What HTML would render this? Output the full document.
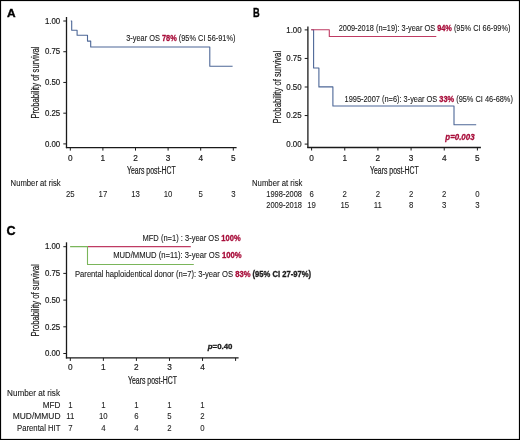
<!DOCTYPE html>
<html><head><meta charset="utf-8"><style>
html,body{margin:0;padding:0;background:#fff;}
#w{position:relative;width:520px;height:440px;overflow:hidden;background:#fff;}
svg{position:absolute;left:0;top:0;will-change:transform;}
text{font-family:"Liberation Sans",sans-serif;}
</style></head><body><div id="w">
<svg width="520" height="440" viewBox="0 0 520 440">
<rect x="0.5" y="0.5" width="519" height="439" fill="#fff" stroke="#000" stroke-width="1.2"/>
<text x="7.10" y="16.70" font-size="11.6" fill="#000" stroke="#000" stroke-width="0.35" style="font-weight:bold;" textLength="8.60" lengthAdjust="spacingAndGlyphs">A</text>
<line x1="66.5" y1="17.0" x2="66.5" y2="148.2" stroke="#1a1a1a" stroke-width="1.3"/>
<line x1="65.9" y1="147.6" x2="236.6" y2="147.6" stroke="#1a1a1a" stroke-width="1.3"/>
<line x1="63.3" y1="21.0" x2="66.5" y2="21.0" stroke="#1a1a1a" stroke-width="1.0"/>
<text x="44.90" y="23.70" font-size="9.0" fill="#1a1a1a" stroke="#1a1a1a" stroke-width="0.2" style="" textLength="15.30" lengthAdjust="spacingAndGlyphs">1.00</text>
<line x1="63.3" y1="51.725" x2="66.5" y2="51.725" stroke="#1a1a1a" stroke-width="1.0"/>
<text x="44.90" y="54.43" font-size="9.0" fill="#1a1a1a" stroke="#1a1a1a" stroke-width="0.2" style="" textLength="15.30" lengthAdjust="spacingAndGlyphs">0.75</text>
<line x1="63.3" y1="82.45" x2="66.5" y2="82.45" stroke="#1a1a1a" stroke-width="1.0"/>
<text x="44.90" y="85.15" font-size="9.0" fill="#1a1a1a" stroke="#1a1a1a" stroke-width="0.2" style="" textLength="15.30" lengthAdjust="spacingAndGlyphs">0.50</text>
<line x1="63.3" y1="113.17500000000001" x2="66.5" y2="113.17500000000001" stroke="#1a1a1a" stroke-width="1.0"/>
<text x="44.90" y="115.88" font-size="9.0" fill="#1a1a1a" stroke="#1a1a1a" stroke-width="0.2" style="" textLength="15.30" lengthAdjust="spacingAndGlyphs">0.25</text>
<line x1="63.3" y1="143.9" x2="66.5" y2="143.9" stroke="#1a1a1a" stroke-width="1.0"/>
<text x="44.90" y="146.60" font-size="9.0" fill="#1a1a1a" stroke="#1a1a1a" stroke-width="0.2" style="" textLength="15.30" lengthAdjust="spacingAndGlyphs">0.00</text>
<line x1="70.3" y1="147.6" x2="70.3" y2="150.6" stroke="#1a1a1a" stroke-width="1.0"/>
<text x="68.00" y="160.80" font-size="9.2" fill="#1a1a1a" stroke="#1a1a1a" stroke-width="0.2" style="" textLength="4.61" lengthAdjust="spacingAndGlyphs">0</text>
<line x1="102.9" y1="147.6" x2="102.9" y2="150.6" stroke="#1a1a1a" stroke-width="1.0"/>
<text x="100.60" y="160.80" font-size="9.2" fill="#1a1a1a" stroke="#1a1a1a" stroke-width="0.2" style="" textLength="4.61" lengthAdjust="spacingAndGlyphs">1</text>
<line x1="135.5" y1="147.6" x2="135.5" y2="150.6" stroke="#1a1a1a" stroke-width="1.0"/>
<text x="133.20" y="160.80" font-size="9.2" fill="#1a1a1a" stroke="#1a1a1a" stroke-width="0.2" style="" textLength="4.61" lengthAdjust="spacingAndGlyphs">2</text>
<line x1="168.10000000000002" y1="147.6" x2="168.10000000000002" y2="150.6" stroke="#1a1a1a" stroke-width="1.0"/>
<text x="165.80" y="160.80" font-size="9.2" fill="#1a1a1a" stroke="#1a1a1a" stroke-width="0.2" style="" textLength="4.61" lengthAdjust="spacingAndGlyphs">3</text>
<line x1="200.7" y1="147.6" x2="200.7" y2="150.6" stroke="#1a1a1a" stroke-width="1.0"/>
<text x="198.40" y="160.80" font-size="9.2" fill="#1a1a1a" stroke="#1a1a1a" stroke-width="0.2" style="" textLength="4.61" lengthAdjust="spacingAndGlyphs">4</text>
<line x1="233.3" y1="147.6" x2="233.3" y2="150.6" stroke="#1a1a1a" stroke-width="1.0"/>
<text x="231.00" y="160.80" font-size="9.2" fill="#1a1a1a" stroke="#1a1a1a" stroke-width="0.2" style="" textLength="4.61" lengthAdjust="spacingAndGlyphs">5</text>
<text transform="translate(39.30,118.50) rotate(-90)" x="0" y="0" font-size="10.2" fill="#1a1a1a" stroke="#1a1a1a" stroke-width="0.2" textLength="71.90" lengthAdjust="spacingAndGlyphs">Probability of survival</text>
<text x="127.00" y="174.10" font-size="10" fill="#1a1a1a" stroke="#1a1a1a" stroke-width="0.2" style="" textLength="48.80" lengthAdjust="spacingAndGlyphs">Years post-HCT</text>
<path d="M70.8 21 H71.7 V30.3 H77.1 V35.3 H87.5 V41.1 H90.7 V47.0 H209.8 V66.3 H232.6" fill="none" stroke="#4d6797" stroke-width="1.1" stroke-linejoin="round"/>
<text x="126.20" y="40.70" font-size="8.2" fill="#1a1a1a" stroke="#1a1a1a" stroke-width="0.1" style="" textLength="33.69" lengthAdjust="spacingAndGlyphs">3-year OS</text>
<text x="161.95" y="40.70" font-size="8.2" fill="#a80d3a" stroke="#a80d3a" stroke-width="0.3" style="font-weight:bold;" textLength="14.80" lengthAdjust="spacingAndGlyphs">78%</text>
<text x="178.80" y="40.70" font-size="8.2" fill="#1a1a1a" stroke="#1a1a1a" stroke-width="0.1" style="" textLength="56.70" lengthAdjust="spacingAndGlyphs">(95% CI 56-91%)</text>
<text x="10.60" y="185.90" font-size="8.2" fill="#1a1a1a" stroke="#1a1a1a" stroke-width="0.1" style="" textLength="50.00" lengthAdjust="spacingAndGlyphs">Number at risk</text>
<text x="65.95" y="197.00" font-size="9.2" fill="#1a1a1a" stroke="#1a1a1a" stroke-width="0.08" style="" textLength="8.70" lengthAdjust="spacingAndGlyphs">25</text>
<text x="98.55" y="197.00" font-size="9.2" fill="#1a1a1a" stroke="#1a1a1a" stroke-width="0.08" style="" textLength="8.70" lengthAdjust="spacingAndGlyphs">17</text>
<text x="131.15" y="197.00" font-size="9.2" fill="#1a1a1a" stroke="#1a1a1a" stroke-width="0.08" style="" textLength="8.70" lengthAdjust="spacingAndGlyphs">13</text>
<text x="163.75" y="197.00" font-size="9.2" fill="#1a1a1a" stroke="#1a1a1a" stroke-width="0.08" style="" textLength="8.70" lengthAdjust="spacingAndGlyphs">10</text>
<text x="198.53" y="197.00" font-size="9.2" fill="#1a1a1a" stroke="#1a1a1a" stroke-width="0.08" style="" textLength="4.35" lengthAdjust="spacingAndGlyphs">5</text>
<text x="231.13" y="197.00" font-size="9.2" fill="#1a1a1a" stroke="#1a1a1a" stroke-width="0.08" style="" textLength="4.35" lengthAdjust="spacingAndGlyphs">3</text>
<text x="252.90" y="16.70" font-size="12" fill="#000" stroke="#000" stroke-width="0.35" style="font-weight:bold;" textLength="6.70" lengthAdjust="spacingAndGlyphs">B</text>
<line x1="307.9" y1="26.4" x2="307.9" y2="148.1" stroke="#1a1a1a" stroke-width="1.3"/>
<line x1="307.29999999999995" y1="147.5" x2="480.9" y2="147.5" stroke="#1a1a1a" stroke-width="1.3"/>
<line x1="304.7" y1="29.9" x2="307.9" y2="29.9" stroke="#1a1a1a" stroke-width="1.0"/>
<text x="286.30" y="32.60" font-size="9.0" fill="#1a1a1a" stroke="#1a1a1a" stroke-width="0.2" style="" textLength="15.30" lengthAdjust="spacingAndGlyphs">1.00</text>
<line x1="304.7" y1="58.449999999999996" x2="307.9" y2="58.449999999999996" stroke="#1a1a1a" stroke-width="1.0"/>
<text x="286.30" y="61.15" font-size="9.0" fill="#1a1a1a" stroke="#1a1a1a" stroke-width="0.2" style="" textLength="15.30" lengthAdjust="spacingAndGlyphs">0.75</text>
<line x1="304.7" y1="87.0" x2="307.9" y2="87.0" stroke="#1a1a1a" stroke-width="1.0"/>
<text x="286.30" y="89.70" font-size="9.0" fill="#1a1a1a" stroke="#1a1a1a" stroke-width="0.2" style="" textLength="15.30" lengthAdjust="spacingAndGlyphs">0.50</text>
<line x1="304.7" y1="115.54999999999998" x2="307.9" y2="115.54999999999998" stroke="#1a1a1a" stroke-width="1.0"/>
<text x="286.30" y="118.25" font-size="9.0" fill="#1a1a1a" stroke="#1a1a1a" stroke-width="0.2" style="" textLength="15.30" lengthAdjust="spacingAndGlyphs">0.25</text>
<line x1="304.7" y1="144.1" x2="307.9" y2="144.1" stroke="#1a1a1a" stroke-width="1.0"/>
<text x="286.30" y="146.80" font-size="9.0" fill="#1a1a1a" stroke="#1a1a1a" stroke-width="0.2" style="" textLength="15.30" lengthAdjust="spacingAndGlyphs">0.00</text>
<line x1="311.6" y1="147.5" x2="311.6" y2="150.5" stroke="#1a1a1a" stroke-width="1.0"/>
<text x="309.30" y="160.90" font-size="9.2" fill="#1a1a1a" stroke="#1a1a1a" stroke-width="0.2" style="" textLength="4.61" lengthAdjust="spacingAndGlyphs">0</text>
<line x1="344.76" y1="147.5" x2="344.76" y2="150.5" stroke="#1a1a1a" stroke-width="1.0"/>
<text x="342.46" y="160.90" font-size="9.2" fill="#1a1a1a" stroke="#1a1a1a" stroke-width="0.2" style="" textLength="4.61" lengthAdjust="spacingAndGlyphs">1</text>
<line x1="377.92" y1="147.5" x2="377.92" y2="150.5" stroke="#1a1a1a" stroke-width="1.0"/>
<text x="375.62" y="160.90" font-size="9.2" fill="#1a1a1a" stroke="#1a1a1a" stroke-width="0.2" style="" textLength="4.61" lengthAdjust="spacingAndGlyphs">2</text>
<line x1="411.08000000000004" y1="147.5" x2="411.08000000000004" y2="150.5" stroke="#1a1a1a" stroke-width="1.0"/>
<text x="408.78" y="160.90" font-size="9.2" fill="#1a1a1a" stroke="#1a1a1a" stroke-width="0.2" style="" textLength="4.61" lengthAdjust="spacingAndGlyphs">3</text>
<line x1="444.24" y1="147.5" x2="444.24" y2="150.5" stroke="#1a1a1a" stroke-width="1.0"/>
<text x="441.94" y="160.90" font-size="9.2" fill="#1a1a1a" stroke="#1a1a1a" stroke-width="0.2" style="" textLength="4.61" lengthAdjust="spacingAndGlyphs">4</text>
<line x1="477.4" y1="147.5" x2="477.4" y2="150.5" stroke="#1a1a1a" stroke-width="1.0"/>
<text x="475.10" y="160.90" font-size="9.2" fill="#1a1a1a" stroke="#1a1a1a" stroke-width="0.2" style="" textLength="4.61" lengthAdjust="spacingAndGlyphs">5</text>
<text transform="translate(281.00,123.60) rotate(-90)" x="0" y="0" font-size="10.2" fill="#1a1a1a" stroke="#1a1a1a" stroke-width="0.2" textLength="72.70" lengthAdjust="spacingAndGlyphs">Probability of survival</text>
<text x="370.00" y="173.90" font-size="10" fill="#1a1a1a" stroke="#1a1a1a" stroke-width="0.2" style="" textLength="48.80" lengthAdjust="spacingAndGlyphs">Years post-HCT</text>
<path d="M311.6 29.8 H313.6 V68.0 H318.9 V86.9 H332.9 V106.0 H454.0 V124.8 H476.2" fill="none" stroke="#4d6797" stroke-width="1.1" stroke-linejoin="round"/>
<path d="M311 29.8 H329.3 V36.5 H436.3" fill="none" stroke="#bf3b63" stroke-width="1.1" stroke-linejoin="round"/>
<text x="338.70" y="31.20" font-size="8.2" fill="#1a1a1a" stroke="#1a1a1a" stroke-width="0.1" style="" textLength="96.40" lengthAdjust="spacingAndGlyphs">2009-2018 (n=19): 3-year OS</text>
<text x="437.14" y="31.20" font-size="8.2" fill="#a80d3a" stroke="#a80d3a" stroke-width="0.3" style="font-weight:bold;" textLength="14.74" lengthAdjust="spacingAndGlyphs">94%</text>
<text x="453.92" y="31.20" font-size="8.2" fill="#1a1a1a" stroke="#1a1a1a" stroke-width="0.1" style="" textLength="56.48" lengthAdjust="spacingAndGlyphs">(95% CI 66-99%)</text>
<text x="344.60" y="101.50" font-size="8.2" fill="#1a1a1a" stroke="#1a1a1a" stroke-width="0.1" style="" textLength="92.68" lengthAdjust="spacingAndGlyphs">1995-2007 (n=6): 3-year OS</text>
<text x="439.34" y="101.50" font-size="8.2" fill="#a80d3a" stroke="#a80d3a" stroke-width="0.3" style="font-weight:bold;" textLength="14.80" lengthAdjust="spacingAndGlyphs">33%</text>
<text x="456.19" y="101.50" font-size="8.2" fill="#1a1a1a" stroke="#1a1a1a" stroke-width="0.1" style="" textLength="56.71" lengthAdjust="spacingAndGlyphs">(95% CI 46-68%)</text>
<text x="445.30" y="140.00" font-size="8.6" fill="#a80d3a" stroke="#a80d3a" stroke-width="0.3" style="font-weight:bold;font-style:italic;" textLength="29.30" lengthAdjust="spacingAndGlyphs">p=0.003</text>
<text x="252.00" y="185.90" font-size="8.2" fill="#1a1a1a" stroke="#1a1a1a" stroke-width="0.1" style="" textLength="50.40" lengthAdjust="spacingAndGlyphs">Number at risk</text>
<text x="266.30" y="197.00" font-size="8.2" fill="#1a1a1a" stroke="#1a1a1a" stroke-width="0.1" style="" textLength="35.70" lengthAdjust="spacingAndGlyphs">1998-2008</text>
<text x="266.30" y="207.50" font-size="8.2" fill="#1a1a1a" stroke="#1a1a1a" stroke-width="0.1" style="" textLength="35.70" lengthAdjust="spacingAndGlyphs">2009-2018</text>
<text x="309.43" y="197.00" font-size="9.2" fill="#1a1a1a" stroke="#1a1a1a" stroke-width="0.08" style="" textLength="4.35" lengthAdjust="spacingAndGlyphs">6</text>
<text x="342.59" y="197.00" font-size="9.2" fill="#1a1a1a" stroke="#1a1a1a" stroke-width="0.08" style="" textLength="4.35" lengthAdjust="spacingAndGlyphs">2</text>
<text x="375.75" y="197.00" font-size="9.2" fill="#1a1a1a" stroke="#1a1a1a" stroke-width="0.08" style="" textLength="4.35" lengthAdjust="spacingAndGlyphs">2</text>
<text x="408.91" y="197.00" font-size="9.2" fill="#1a1a1a" stroke="#1a1a1a" stroke-width="0.08" style="" textLength="4.35" lengthAdjust="spacingAndGlyphs">2</text>
<text x="442.07" y="197.00" font-size="9.2" fill="#1a1a1a" stroke="#1a1a1a" stroke-width="0.08" style="" textLength="4.35" lengthAdjust="spacingAndGlyphs">2</text>
<text x="475.23" y="197.00" font-size="9.2" fill="#1a1a1a" stroke="#1a1a1a" stroke-width="0.08" style="" textLength="4.35" lengthAdjust="spacingAndGlyphs">0</text>
<text x="307.25" y="207.50" font-size="9.2" fill="#1a1a1a" stroke="#1a1a1a" stroke-width="0.08" style="" textLength="8.70" lengthAdjust="spacingAndGlyphs">19</text>
<text x="340.41" y="207.50" font-size="9.2" fill="#1a1a1a" stroke="#1a1a1a" stroke-width="0.08" style="" textLength="8.70" lengthAdjust="spacingAndGlyphs">15</text>
<text x="373.86" y="207.50" font-size="9.2" fill="#1a1a1a" stroke="#1a1a1a" stroke-width="0.08" style="" textLength="8.12" lengthAdjust="spacingAndGlyphs">11</text>
<text x="408.91" y="207.50" font-size="9.2" fill="#1a1a1a" stroke="#1a1a1a" stroke-width="0.08" style="" textLength="4.35" lengthAdjust="spacingAndGlyphs">8</text>
<text x="442.07" y="207.50" font-size="9.2" fill="#1a1a1a" stroke="#1a1a1a" stroke-width="0.08" style="" textLength="4.35" lengthAdjust="spacingAndGlyphs">3</text>
<text x="475.23" y="207.50" font-size="9.2" fill="#1a1a1a" stroke="#1a1a1a" stroke-width="0.08" style="" textLength="4.35" lengthAdjust="spacingAndGlyphs">3</text>
<text x="6.50" y="234.60" font-size="12" fill="#000" stroke="#000" stroke-width="0.35" style="font-weight:bold;" textLength="9.10" lengthAdjust="spacingAndGlyphs">C</text>
<line x1="66.5" y1="242.3" x2="66.5" y2="358.5" stroke="#1a1a1a" stroke-width="1.3"/>
<line x1="65.9" y1="357.9" x2="238.6" y2="357.9" stroke="#1a1a1a" stroke-width="1.3"/>
<line x1="63.3" y1="246.7" x2="66.5" y2="246.7" stroke="#1a1a1a" stroke-width="1.0"/>
<text x="44.90" y="249.40" font-size="9.0" fill="#1a1a1a" stroke="#1a1a1a" stroke-width="0.2" style="" textLength="15.30" lengthAdjust="spacingAndGlyphs">1.00</text>
<line x1="63.3" y1="273.4" x2="66.5" y2="273.4" stroke="#1a1a1a" stroke-width="1.0"/>
<text x="44.90" y="276.10" font-size="9.0" fill="#1a1a1a" stroke="#1a1a1a" stroke-width="0.2" style="" textLength="15.30" lengthAdjust="spacingAndGlyphs">0.75</text>
<line x1="63.3" y1="300.1" x2="66.5" y2="300.1" stroke="#1a1a1a" stroke-width="1.0"/>
<text x="44.90" y="302.80" font-size="9.0" fill="#1a1a1a" stroke="#1a1a1a" stroke-width="0.2" style="" textLength="15.30" lengthAdjust="spacingAndGlyphs">0.50</text>
<line x1="63.3" y1="326.8" x2="66.5" y2="326.8" stroke="#1a1a1a" stroke-width="1.0"/>
<text x="44.90" y="329.50" font-size="9.0" fill="#1a1a1a" stroke="#1a1a1a" stroke-width="0.2" style="" textLength="15.30" lengthAdjust="spacingAndGlyphs">0.25</text>
<line x1="63.3" y1="353.5" x2="66.5" y2="353.5" stroke="#1a1a1a" stroke-width="1.0"/>
<text x="44.90" y="356.20" font-size="9.0" fill="#1a1a1a" stroke="#1a1a1a" stroke-width="0.2" style="" textLength="15.30" lengthAdjust="spacingAndGlyphs">0.00</text>
<line x1="70.3" y1="357.9" x2="70.3" y2="360.9" stroke="#1a1a1a" stroke-width="1.0"/>
<text x="68.00" y="370.40" font-size="9.2" fill="#1a1a1a" stroke="#1a1a1a" stroke-width="0.2" style="" textLength="4.61" lengthAdjust="spacingAndGlyphs">0</text>
<line x1="103.36" y1="357.9" x2="103.36" y2="360.9" stroke="#1a1a1a" stroke-width="1.0"/>
<text x="101.06" y="370.40" font-size="9.2" fill="#1a1a1a" stroke="#1a1a1a" stroke-width="0.2" style="" textLength="4.61" lengthAdjust="spacingAndGlyphs">1</text>
<line x1="136.42000000000002" y1="357.9" x2="136.42000000000002" y2="360.9" stroke="#1a1a1a" stroke-width="1.0"/>
<text x="134.12" y="370.40" font-size="9.2" fill="#1a1a1a" stroke="#1a1a1a" stroke-width="0.2" style="" textLength="4.61" lengthAdjust="spacingAndGlyphs">2</text>
<line x1="169.48000000000002" y1="357.9" x2="169.48000000000002" y2="360.9" stroke="#1a1a1a" stroke-width="1.0"/>
<text x="167.18" y="370.40" font-size="9.2" fill="#1a1a1a" stroke="#1a1a1a" stroke-width="0.2" style="" textLength="4.61" lengthAdjust="spacingAndGlyphs">3</text>
<line x1="202.54000000000002" y1="357.9" x2="202.54000000000002" y2="360.9" stroke="#1a1a1a" stroke-width="1.0"/>
<text x="200.24" y="370.40" font-size="9.2" fill="#1a1a1a" stroke="#1a1a1a" stroke-width="0.2" style="" textLength="4.61" lengthAdjust="spacingAndGlyphs">4</text>
<line x1="235.60000000000002" y1="357.9" x2="235.60000000000002" y2="360.9" stroke="#1a1a1a" stroke-width="1.0"/>
<text transform="translate(39.10,336.60) rotate(-90)" x="0" y="0" font-size="10.2" fill="#1a1a1a" stroke="#1a1a1a" stroke-width="0.2" textLength="72.40" lengthAdjust="spacingAndGlyphs">Probability of survival</text>
<text x="128.00" y="384.30" font-size="10" fill="#1a1a1a" stroke="#1a1a1a" stroke-width="0.2" style="" textLength="49.00" lengthAdjust="spacingAndGlyphs">Years post-HCT</text>
<path d="M87.5 246.6 H190.8" fill="none" stroke="#bf3b63" stroke-width="1.1" stroke-linejoin="round"/>
<path d="M70.1 246.6 H87.5 V264.5 H193.8" fill="none" stroke="#7ab55a" stroke-width="1.1" stroke-linejoin="round"/>
<text x="142.50" y="241.00" font-size="8.2" fill="#1a1a1a" stroke="#1a1a1a" stroke-width="0.1" style="" textLength="76.76" lengthAdjust="spacingAndGlyphs">MFD (n=1) : 3-year OS</text>
<text x="221.35" y="241.00" font-size="8.2" fill="#a80d3a" stroke="#a80d3a" stroke-width="0.3" style="font-weight:bold;" textLength="19.25" lengthAdjust="spacingAndGlyphs">100%</text>
<text x="113.20" y="257.60" font-size="8.2" fill="#1a1a1a" stroke="#1a1a1a" stroke-width="0.1" style="" textLength="106.56" lengthAdjust="spacingAndGlyphs">MUD/MMUD (n=11): 3-year OS</text>
<text x="221.89" y="257.60" font-size="8.2" fill="#a80d3a" stroke="#a80d3a" stroke-width="0.3" style="font-weight:bold;" textLength="19.61" lengthAdjust="spacingAndGlyphs">100%</text>
<text x="75.00" y="276.60" font-size="8.2" fill="#1a1a1a" stroke="#1a1a1a" stroke-width="0.1" style="" textLength="158.04" lengthAdjust="spacingAndGlyphs">Parental haploidentical donor (n=7): 3-year OS</text>
<text x="235.16" y="276.60" font-size="8.2" fill="#a80d3a" stroke="#a80d3a" stroke-width="0.3" style="font-weight:bold;" textLength="15.28" lengthAdjust="spacingAndGlyphs">83%</text>
<text x="252.56" y="276.60" font-size="8.2" fill="#1a1a1a" stroke="#1a1a1a" stroke-width="0.3" style="font-weight:bold;" textLength="58.54" lengthAdjust="spacingAndGlyphs">(95% CI 27-97%)</text>
<text x="207.80" y="348.90" font-size="7.5" fill="#1a1a1a" stroke="#1a1a1a" stroke-width="0.3" style="font-weight:bold;font-style:italic;" textLength="4.80" lengthAdjust="spacingAndGlyphs">p</text>
<text x="212.60" y="348.90" font-size="7.5" fill="#1a1a1a" stroke="#1a1a1a" stroke-width="0.3" style="font-weight:bold;" textLength="19.90" lengthAdjust="spacingAndGlyphs">=0.40</text>
<text x="7.00" y="395.50" font-size="8.2" fill="#1a1a1a" stroke="#1a1a1a" stroke-width="0.1" style="" textLength="53.00" lengthAdjust="spacingAndGlyphs">Number at risk</text>
<text x="42.74" y="407.50" font-size="8.2" fill="#1a1a1a" stroke="#1a1a1a" stroke-width="0.1" style="" textLength="17.76" lengthAdjust="spacingAndGlyphs">MFD</text>
<text x="12.70" y="419.20" font-size="8.2" fill="#1a1a1a" stroke="#1a1a1a" stroke-width="0.1" style="" textLength="47.80" lengthAdjust="spacingAndGlyphs">MUD/MMUD</text>
<text x="17.00" y="430.80" font-size="8.2" fill="#1a1a1a" stroke="#1a1a1a" stroke-width="0.1" style="" textLength="43.50" lengthAdjust="spacingAndGlyphs">Parental HIT</text>
<text x="68.13" y="407.50" font-size="9.2" fill="#1a1a1a" stroke="#1a1a1a" stroke-width="0.08" style="" textLength="4.35" lengthAdjust="spacingAndGlyphs">1</text>
<text x="101.19" y="407.50" font-size="9.2" fill="#1a1a1a" stroke="#1a1a1a" stroke-width="0.08" style="" textLength="4.35" lengthAdjust="spacingAndGlyphs">1</text>
<text x="134.25" y="407.50" font-size="9.2" fill="#1a1a1a" stroke="#1a1a1a" stroke-width="0.08" style="" textLength="4.35" lengthAdjust="spacingAndGlyphs">1</text>
<text x="167.31" y="407.50" font-size="9.2" fill="#1a1a1a" stroke="#1a1a1a" stroke-width="0.08" style="" textLength="4.35" lengthAdjust="spacingAndGlyphs">1</text>
<text x="200.37" y="407.50" font-size="9.2" fill="#1a1a1a" stroke="#1a1a1a" stroke-width="0.08" style="" textLength="4.35" lengthAdjust="spacingAndGlyphs">1</text>
<text x="66.24" y="419.20" font-size="9.2" fill="#1a1a1a" stroke="#1a1a1a" stroke-width="0.08" style="" textLength="8.12" lengthAdjust="spacingAndGlyphs">11</text>
<text x="99.01" y="419.20" font-size="9.2" fill="#1a1a1a" stroke="#1a1a1a" stroke-width="0.08" style="" textLength="8.70" lengthAdjust="spacingAndGlyphs">10</text>
<text x="134.25" y="419.20" font-size="9.2" fill="#1a1a1a" stroke="#1a1a1a" stroke-width="0.08" style="" textLength="4.35" lengthAdjust="spacingAndGlyphs">6</text>
<text x="167.31" y="419.20" font-size="9.2" fill="#1a1a1a" stroke="#1a1a1a" stroke-width="0.08" style="" textLength="4.35" lengthAdjust="spacingAndGlyphs">5</text>
<text x="200.37" y="419.20" font-size="9.2" fill="#1a1a1a" stroke="#1a1a1a" stroke-width="0.08" style="" textLength="4.35" lengthAdjust="spacingAndGlyphs">2</text>
<text x="68.13" y="430.80" font-size="9.2" fill="#1a1a1a" stroke="#1a1a1a" stroke-width="0.08" style="" textLength="4.35" lengthAdjust="spacingAndGlyphs">7</text>
<text x="101.19" y="430.80" font-size="9.2" fill="#1a1a1a" stroke="#1a1a1a" stroke-width="0.08" style="" textLength="4.35" lengthAdjust="spacingAndGlyphs">4</text>
<text x="134.25" y="430.80" font-size="9.2" fill="#1a1a1a" stroke="#1a1a1a" stroke-width="0.08" style="" textLength="4.35" lengthAdjust="spacingAndGlyphs">4</text>
<text x="167.31" y="430.80" font-size="9.2" fill="#1a1a1a" stroke="#1a1a1a" stroke-width="0.08" style="" textLength="4.35" lengthAdjust="spacingAndGlyphs">2</text>
<text x="200.37" y="430.80" font-size="9.2" fill="#1a1a1a" stroke="#1a1a1a" stroke-width="0.08" style="" textLength="4.35" lengthAdjust="spacingAndGlyphs">0</text>
</svg></div></body></html>
